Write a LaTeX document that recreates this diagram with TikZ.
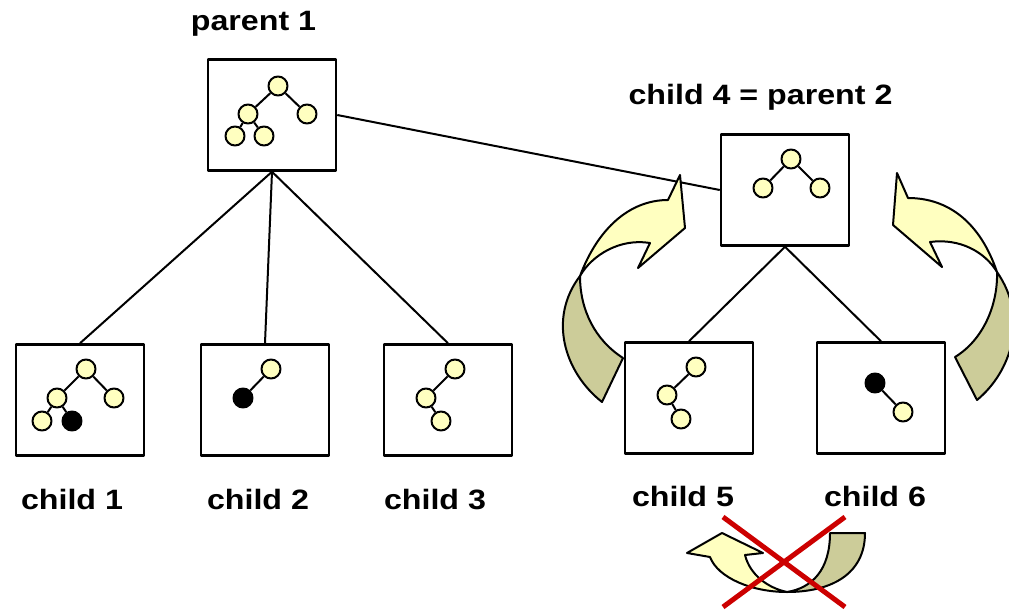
\documentclass[tikz,border=0pt]{standalone}
\usepackage{fontspec}
\newfontfamily\labelfont[FakeStretch=1.15]{Liberation Sans}
\usepackage{tikz}
\usetikzlibrary{arrows}
\definecolor{paleyellow}{RGB}{255,255,192}
\definecolor{olive}{RGB}{204,204,153}
\definecolor{crossred}{RGB}{204,0,0}

\begin{document}
\begin{tikzpicture}[x=1pt,y=-1pt,line join=round,
                    treebox/.style={draw,line width=2.5pt,minimum width=128pt,minimum height=111pt,inner sep=0pt},
                    yellownode/.style={circle,draw,line width=2pt,fill=paleyellow,minimum size=19pt,inner sep=0pt},
                    blacknode/.style={yellownode,fill=black},
                    labeltext/.style={anchor=base,font=\labelfont\bfseries\fontsize{28}{34}\selectfont},
                    twist/.style={draw,line width=2pt,fill=#1}]
                \clip (0,0) rectangle (1009,612);
                % the boxes
                \node[treebox] (p1) at (272,115) {};
                \node[treebox] (p2) at (785,190) {};
                \node[treebox] (c1) at (80,400) {};
                \node[treebox] (c2) at (265,400) {};
                \node[treebox] (c3) at (448,400) {};
                \node[treebox] (c5) at (689,398) {};
                \node[treebox] (c6) at (881,398) {};
                \path[line width=2pt]
                (p1.south) edge (c1.north)
                           edge (c2.north)
                           edge (c3.north)
                (p1.east)  edge (p2.west)
                (p2.south) edge (c5.north)
                           edge (c6.north)
                ;
                % labels
                \node[labeltext] (l1) at (253.5,31) {parent 1};
                \node[labeltext] (l4) at (760.5,105) {child 4 = parent 2};
                \node[labeltext] (lc1) at (72,509) {child 1};
                \node[labeltext] (lc2) at (258,509) {child 2};
                \node[labeltext] (lc3) at (435,509) {child 3};
                \node[labeltext] (lc5) at (683,506) {child 5};
                \node[labeltext] (lc6) at (875,506) {child 6};
                % small trees inside the boxes
                \node[yellownode] (p1r) at (278,86) {};
                \node[yellownode] (p1a) at (248,114) {};
                \node[yellownode] (p1b) at (307,114) {};
                \node[yellownode] (p1c) at (235,136) {};
                \node[yellownode] (p1d) at (264,136) {};
                \node[yellownode] (c1r) at (86,369) {};
                \node[yellownode] (c1a) at (57,398) {};
                \node[yellownode] (c1b) at (114,398) {};
                \node[yellownode] (c1c) at (42,421) {};
                \node[blacknode]  (c1d) at (72,421) {};
                \node[yellownode] (c2r) at (271,369) {};
                \node[blacknode]  (c2a) at (243,398) {};
                \node[yellownode] (c3r) at (455,369) {};
                \node[yellownode] (c3a) at (426,398) {};
                \node[yellownode] (c3b) at (441,421) {};
                \node[yellownode] (p2r) at (791,159) {};
                \node[yellownode] (p2a) at (763,188) {};
                \node[yellownode] (p2b) at (820,188) {};
                \node[yellownode] (c5r) at (696,367) {};
                \node[yellownode] (c5a) at (667,395) {};
                \node[yellownode] (c5b) at (681,419) {};
                \node[blacknode]  (c6r) at (875,383) {};
                \node[yellownode] (c6a) at (903,412) {};
                \path[line width=2pt]
                (p1r) edge (p1a) edge (p1b)
                (p1a) edge (p1c) edge (p1d)
                (c1r) edge (c1a) edge (c1b)
                (c1a) edge (c1c) edge (c1d)
                (c2r) edge (c2a)
                (c3r) edge (c3a)
                (c3a) edge (c3b)
                (p2r) edge (p2a) edge (p2b)
                (c5r) edge (c5a)
                (c5a) edge (c5b)
                (c6r) edge (c6a)
                ;
                % turning arrows, left side
                \path[twist=olive] (602,402) .. controls (564,372) and (548,318) .. (580,276)
                    .. controls (580,310) and (595,340) .. (623,358) -- cycle;
                \path[twist=paleyellow] (580,276) .. controls (598,228) and (630,200) .. (668,200)
                    -- (680,175) -- (685,228) -- (638,268) -- (650,243)
                    .. controls (620,238) and (592,255) .. (580,276) -- cycle;
                % right side
                \path[twist=olive] (977,400) .. controls (1011,372) and (1029,318) .. (997,272)
                    .. controls (998,305) and (983,340) .. (955,357) -- cycle;
                \path[twist=paleyellow] (997,272) .. controls (980,222) and (948,198) .. (908,198)
                    -- (897,173) -- (893,225) -- (942,267) -- (930,242)
                    .. controls (960,238) and (985,252) .. (997,272) -- cycle;
                % the one that is not allowed
                \path[twist=olive] (865,533) .. controls (865,575) and (830,592) .. (787,592)
                    .. controls (812,588) and (830,570) .. (830,533) -- cycle;
                \path[twist=paleyellow] (787,592) .. controls (752,592) and (718,578) .. (710,557)
                    -- (687,553) -- (722,533) -- (763,553) -- (745,555)
                    .. controls (750,575) and (768,588) .. (787,592) -- cycle;
                \coordinate (x1) at (723,517);
                \coordinate (x2) at (845,607);
                \coordinate (x3) at (845,517);
                \coordinate (x4) at (723,607);
                \draw[crossred,line width=5pt] (x1) -- (x2) (x3) -- (x4);
            \end{tikzpicture}
\end{document}
